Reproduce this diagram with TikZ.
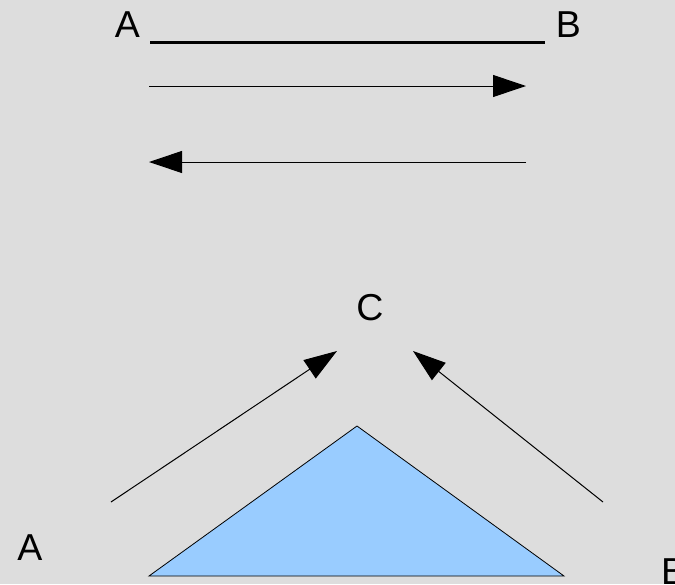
\documentclass[tikz,border=0pt]{standalone}
\usepackage{fontspec}
\setmainfont{Liberation Sans}
\usetikzlibrary{arrows.meta}
\definecolor{cBg}{HTML}{DDDDDD}
\definecolor{cTri}{HTML}{99CCFF}

\begin{document}
\begin{tikzpicture}[x=1pt, y=-1pt, font=\fontsize{37.5}{40}\selectfont,
  lab/.style={anchor=base, inner sep=0pt},
  arr/.style={-{Triangle[length=33pt, width=22pt]}, line width=1pt},
  >={Triangle[length=33pt, width=22pt]}]
  \fill[cBg] (0,0) rectangle (675,584);
  \useasboundingbox (0,0) rectangle (675,584);
  % top: segment AB and its two directions
  \node[lab] (aTop) at (127.5,37) {A};
  \node[lab] (bTop) at (568.5,37) {B};
  \coordinate (s1) at (150,42); \coordinate (s2) at (545,42);
  \draw[line width=3pt] (s1) -- (s2);
  \foreach \n/\y in {f/86,r/162} {\coordinate (\n1) at (149,\y); \coordinate (\n2) at (526,\y);}
  \draw[arr] (f1) -- (f2);
  \draw[arr] (r2) -- (r1);
  % bottom: triangle, both sides point to C
  \node[lab] (cLab) at (370,320) {C};
  \node[lab] (aBot) at (30,560) {A};
  \node[lab, anchor=base west] (bBot) at (661,584) {B};
  \coordinate (apex) at (357,426); \coordinate (bl) at (149,576); \coordinate (br) at (564,576);
  \draw[fill=cTri, line width=0.8pt] (apex) -- (br) -- (bl) -- cycle;
  \coordinate (la) at (111,502); \coordinate (lc) at (337,351);
  \coordinate (rb) at (603,502); \coordinate (rc) at (413,351);
  \draw[arr] (la) -- (lc);
  \draw[arr] (rb) -- (rc);
\end{tikzpicture}
\end{document}
